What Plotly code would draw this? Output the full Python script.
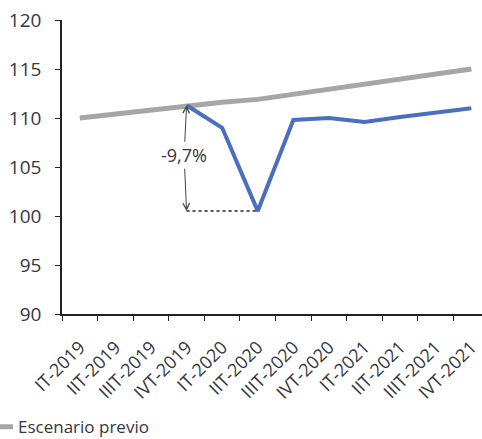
import plotly.graph_objects as go

categories = ["IT-2019", "IIT-2019", "IIIT-2019", "IVT-2019", "IT-2020", "IIT-2020",
              "IIIT-2020", "IVT-2020", "IT-2021", "IIT-2021", "IIIT-2021", "IVT-2021"]
previo = [110.0, 110.4, 110.8, 111.3, 111.6, 111.9, 112.4, 113.0, 113.5, 114.0, 114.5, 115.0]
actual = [None, None, None, 111.3, 109.0, 100.5, 109.8, 110.0, 109.6, 110.1, 110.6, 111.0]
drop_label = "-9,7%"

FONT = "Open Sans"
TXT = "#363640"

fig = go.Figure()
fig.add_trace(go.Scatter(x=categories, y=previo, mode="lines", name="Escenario previo",
                         line=dict(color="#a6a6a6", width=5)))
fig.add_trace(go.Scatter(x=categories, y=actual, mode="lines", name="Escenario actual",
                         line=dict(color="#4a6fc0", width=4), showlegend=False))

# dotted horizontal line from IVT-2019 to IIT-2020 at trough level
fig.add_shape(type="line", xref="x", yref="y", x0=3, x1=5, y0=actual[5], y1=actual[5],
              line=dict(color="#222222", width=1.5, dash="dot"))

label_y = 106.2
for tgt, col in [(previo[3], TXT), (actual[5], "rgba(0,0,0,0)")]:
    fig.add_annotation(x=3, y=tgt, ax=2.93, ay=label_y, axref="x", ayref="y", xref="x", yref="y",
                       text=drop_label, showarrow=True, arrowhead=5, arrowsize=1.3, arrowwidth=1,
                       arrowcolor="#444444", font=dict(family=FONT, size=18, color=col),
                       bgcolor="rgba(0,0,0,0)")

fig.update_layout(
    width=482, height=439,
    margin=dict(l=62, r=0, t=20, b=125, autoexpand=False),
    paper_bgcolor="white", plot_bgcolor="white",
    font=dict(family=FONT, size=16, color=TXT),
    legend=dict(x=-0.2, y=-0.385, xanchor="left", yanchor="middle", orientation="h",
                font=dict(family=FONT, size=17, color=TXT)),
)
fig.update_xaxes(type="category", range=[-0.5, 11.3], tickson="boundaries", automargin=False,
                 showline=True, linecolor="#222222", linewidth=1.5,
                 ticks="outside", ticklen=5, tickcolor="#222222", tickangle=-45,
                 ticklabelstandoff=14,
                 showgrid=False, tickfont=dict(family=FONT, size=18, color=TXT))
fig.update_yaxes(range=[90, 120], dtick=5, showline=True, linecolor="#222222", linewidth=1.5,
                 ticks="outside", ticklen=5, tickcolor="#222222", showgrid=False, automargin=False,
                 zeroline=False, ticklabelstandoff=10,
                 tickfont=dict(family=FONT, size=19, color=TXT))

fig.write_html("out.html")
